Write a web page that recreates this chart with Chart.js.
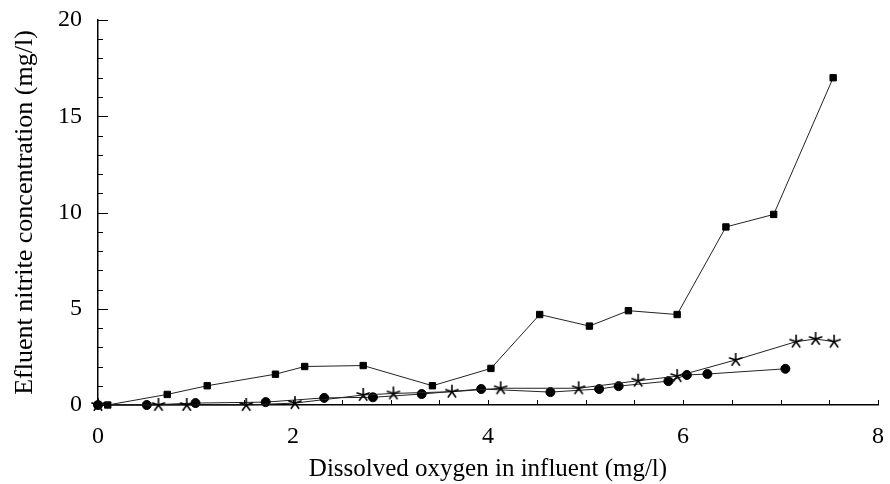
<!DOCTYPE html>
<html>
<head>
<meta charset="utf-8">
<script src="https://cdn.jsdelivr.net/npm/chart.js@4.4.0/dist/chart.umd.min.js"></script>
<style>
  body { margin: 0; background: #fff; }
</style>
</head>
<body>
<canvas id="nitriteChart" width="890" height="484"></canvas>
<script>
// data
const squareX = [0, 0.1, 0.71, 1.12, 1.82, 2.12, 2.72, 3.43, 4.03, 4.53, 5.04, 5.44, 5.94, 6.44, 6.93, 7.54];
const squareY = [0, 0, 0.55, 1.0, 1.6, 2.0, 2.05, 1.0, 1.9, 4.7, 4.1, 4.9, 4.7, 9.25, 9.9, 17.0];

const starX = [0, 0.62, 0.91, 1.52, 2.02, 2.72, 3.03, 3.63, 4.13, 4.93, 5.54, 5.94, 6.54, 7.16, 7.36, 7.55];
const starY = [0, 0, 0, 0, 0.1, 0.52, 0.6, 0.69, 0.87, 0.87, 1.26, 1.5, 2.34, 3.29, 3.43, 3.29];

const circleX = [0, 0.5, 1.0, 1.72, 2.32, 2.82, 3.32, 3.93, 4.64, 5.14, 5.34, 5.85, 6.04, 6.25, 7.05];
const circleY = [0, 0, 0.1, 0.15, 0.37, 0.4, 0.57, 0.83, 0.67, 0.83, 0.98, 1.24, 1.56, 1.61, 1.88];

const xTicks = [0, 2, 4, 6, 8];
const yTicks = [0, 5, 10, 15, 20];

function toPoints(xs, ys) {
  return xs.map((x, i) => ({ x: x, y: ys[i] }));
}

// five armed asterisk marker
function makeStar(size) {
  const c = document.createElement('canvas');
  c.width = size; c.height = size;
  const g = c.getContext('2d');
  const r = size / 2 - 1;
  g.strokeStyle = '#000';
  g.lineWidth = 1.6;
  g.beginPath();
  for (let k = 0; k < 5; k++) {
    const a = -Math.PI / 2 + k * 2 * Math.PI / 5;
    g.moveTo(size / 2, size / 2);
    g.lineTo(size / 2 + r * Math.cos(a), size / 2 + r * Math.sin(a));
  }
  g.stroke();
  return c;
}

// small tick marks pointing into the plot
const innerTicks = {
  id: 'innerTicks',
  afterDraw(chart) {
    const ctx = chart.ctx;
    const xs = chart.scales.x, ys = chart.scales.y;
    ctx.save();
    ctx.strokeStyle = '#000';
    ctx.lineWidth = 1;
    ctx.beginPath();
    for (let v = 0; v <= 20; v++) {
      const py = Math.round(ys.getPixelForValue(v)) + 0.5;
      const len = v % 5 === 0 ? 10 : 5;
      ctx.moveTo(xs.left, py);
      ctx.lineTo(xs.left + len, py);
    }
    for (let v = 0.5; v <= 8; v += 0.5) {
      const px = Math.round(xs.getPixelForValue(v)) + 0.5;
      ctx.moveTo(px, ys.bottom);
      ctx.lineTo(px, ys.bottom - 5);
    }
    ctx.stroke();
    ctx.restore();
  }
};

const serif = '"Liberation Serif", "Times New Roman", serif';
const common = {
  showLine: true,
  borderColor: '#222',
  borderWidth: 1,
  backgroundColor: '#000',
  pointBorderColor: '#000',
  clip: false,
  tension: 0
};

new Chart(document.getElementById('nitriteChart'), {
  type: 'scatter',
  data: {
    datasets: [
      Object.assign({ label: 'square', data: toPoints(squareX, squareY), pointStyle: 'rect', pointRadius: 4.5 }, common),
      Object.assign({ label: 'star', data: toPoints(starX, starY), pointStyle: makeStar(16) }, common),
      Object.assign({ label: 'circle', data: toPoints(circleX, circleY), pointStyle: 'circle', pointRadius: 4.5 }, common)
    ]
  },
  options: {
    responsive: false,
    animation: false,
    layout: { padding: { top: 20, right: 12, left: 0, bottom: 0 } },
    plugins: { legend: { display: false }, tooltip: { enabled: false } },
    scales: {
      x: {
        type: 'linear',
        min: 0, max: 8,
        afterBuildTicks: s => { s.ticks = xTicks.map(v => ({ value: v })); },
        afterFit: s => { s.height = 79; s.paddingLeft = 0; s.paddingRight = 0; },
        grid: { display: false, drawTicks: false },
        border: { display: true, color: '#000', width: 1.5 },
        ticks: { color: '#000', padding: 17, font: { family: serif, size: 24 } },
        title: {
          display: true,
          text: 'Dissolved oxygen in influent (mg/l)',
          color: '#000',
          font: { family: serif, size: 25 },
          padding: { top: 2, bottom: 0 }
        }
      },
      y: {
        type: 'linear',
        min: 0, max: 20,
        afterBuildTicks: s => { s.ticks = yTicks.map(v => ({ value: v })); },
        afterFit: s => { s.width = 98; s.paddingTop = 0; s.paddingBottom = 0; },
        grid: { display: false, drawTicks: false },
        border: { display: true, color: '#000', width: 1.5 },
        ticks: { color: '#000', padding: 16, font: { family: serif, size: 24 } },
        title: {
          display: true,
          text: 'Efluent nitrite concentration (mg/l)',
          color: '#000',
          font: { family: serif, size: 26 },
          padding: { top: 10, bottom: 0 }
        }
      }
    }
  },
  plugins: [innerTicks]
});
</script>
</body>
</html>
